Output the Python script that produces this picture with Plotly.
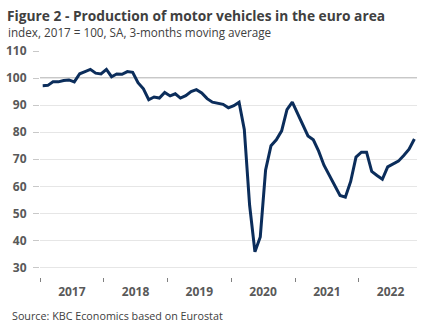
import plotly.graph_objects as go

# Monthly index of motor vehicle production, euro area (2017 = 100), Jan 2017 - Nov 2022
months = [f"{y}-{m:02d}-01" for y in range(2017, 2023) for m in range(1, 13)][:71]
production_index = [
    97.2, 97.3, 98.6, 98.6, 99.1, 99.3, 98.6, 101.6, 102.4, 103.2, 101.8, 101.5,
    103.2, 100.5, 101.5, 101.4, 102.4, 102.1, 98.3, 96.0, 92.0, 93.0, 92.6, 94.7,
    93.4, 94.2, 92.6, 93.5, 95.0, 95.7, 94.5, 92.4, 91.1, 90.6, 90.3, 89.0,
    89.8, 91.1, 81.0, 53.0, 35.8, 41.3, 66.0, 75.0, 77.2, 80.5, 88.3, 91.1,
    86.8, 82.2, 78.6, 77.2, 73.0, 67.8, 64.0, 60.2, 56.6, 56.0, 61.8, 70.8,
    72.6, 72.6, 65.5, 64.0, 62.6, 67.2, 68.2, 69.3, 71.4, 73.7, 77.5,
]
y_ticks = [30, 40, 50, 60, 70, 80, 90, 100, 110]
BASE_INDEX = 100

FONT = "Open Sans"
TEXT_DARK = "#404040"
TEXT_AXIS = "#595959"
LINE_COLOR = "#0b2d5b"

fig = go.Figure()
fig.add_trace(go.Scatter(
    x=months, y=production_index, mode="lines",
    xperiod="M1", xperiodalignment="middle",
    line=dict(color=LINE_COLOR, width=3),
    hoverinfo="skip", showlegend=False,
))
fig.add_hline(y=BASE_INDEX, line=dict(color="#808080", width=1), layer="below")

fig.update_layout(
    width=432, height=334,
    margin=dict(l=39.5, r=15, t=50.5, b=57),
    paper_bgcolor="white", plot_bgcolor="white",
    font=dict(family=FONT, color=TEXT_AXIS),
    title=dict(
        text="<b>Figure 2 - Production of motor vehicles in the euro area</b>",
        font=dict(family=FONT, size=13.75, color=TEXT_DARK),
        x=7 / 432, xanchor="left", xref="container",
        y=1 - 16 / 334, yanchor="middle", yref="container",
    ),
    xaxis=dict(
        type="date",
        range=["2017-01-01", "2022-12-01"],
        tick0="2017-01-01", dtick="M12", tickformat="%Y",
        ticklabelmode="period",
        ticks="outside", ticklen=4, tickcolor="#808080", tickwidth=1,
        showgrid=False, showline=False, zeroline=False,
        automargin=False,
        tickfont=dict(family=FONT, size=12, color=TEXT_AXIS, weight="bold"),
    ),
    yaxis=dict(
        range=[26.5, 110],
        tickvals=y_ticks,
        ticks="outside", ticklen=6, tickcolor="#c8c8c8", tickwidth=1,
        ticklabelstandoff=4,
        showgrid=True, gridcolor="#e6e6e6", gridwidth=1,
        showline=False, zeroline=False,
        automargin=False,
        tickfont=dict(family=FONT, size=12, color=TEXT_AXIS, weight="bold"),
    ),
    annotations=[
        dict(
            text="index, 2017 = 100, SA, 3-months moving average",
            xref="paper", yref="paper",
            x=(5.5 - 39.5) / 377.5, y=1 + (50.5 - 31) / 226.5,
            xanchor="left", yanchor="middle", showarrow=False,
            font=dict(family=FONT, size=11.7, color=TEXT_DARK),
        ),
        dict(
            text="Source: KBC Economics based on Eurostat",
            xref="paper", yref="paper",
            x=(9 - 39.5) / 377.5, y=-(316 - 277) / 226.5,
            xanchor="left", yanchor="middle", showarrow=False,
            font=dict(family=FONT, size=10.75, color=TEXT_DARK),
        ),
    ],
)

fig.write_html("out.html")
